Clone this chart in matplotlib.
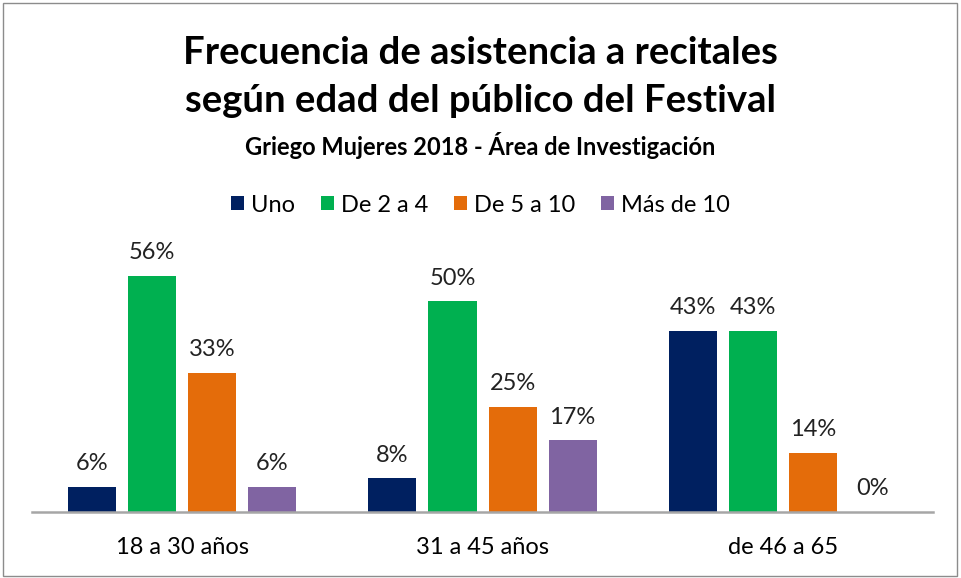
import numpy as np
import matplotlib.pyplot as plt
from matplotlib.patches import Rectangle

plt.rcParams['font.family'] = ['Lato', 'DejaVu Sans']

categories = ['18 a 30 años', '31 a 45 años', 'de 46 a 65']
series = ['Uno', 'De 2 a 4', 'De 5 a 10', 'Más de 10']
values = {
    'Uno': [6, 8, 43],
    'De 2 a 4': [56, 50, 43],
    'De 5 a 10': [33, 25, 14],
    'Más de 10': [6, 17, 0],
}
colors = ['#002060', '#00B050', '#E46C0A', '#8064A2']

fig = plt.figure(figsize=(9.61, 5.78), dpi=100)
ax = fig.add_axes([0.0333, 0.1142, 0.9376, 0.4706])

x = np.arange(len(categories))
width = 0.16
offsets = [-0.3, -0.1, 0.1, 0.3]

for name, col, off in zip(series, colors, offsets):
    vals = values[name]
    bars = ax.bar(x + off, vals, width, color=col, label=name)
    for b, v in zip(bars, vals):
        ax.annotate(f'{v}%', (b.get_x() + b.get_width() / 2, v),
                    xytext=(0, 9), textcoords='offset points',
                    ha='center', va='bottom', fontsize=17, color='#222222')

ax.set_xlim(-0.5, 2.5)
ax.set_ylim(0, 64.5)
ax.set_yticks([])
ax.set_xticks(x)
ax.set_xticklabels(categories, fontsize=17)
ax.tick_params(axis='x', length=0, pad=18)
for s in ['top', 'right', 'left']:
    ax.spines[s].set_visible(False)
ax.spines['bottom'].set_color('#A6A6A6')
ax.spines['bottom'].set_linewidth(1.8)

fig.text(0.5, 0.908, 'Frecuencia de asistencia a recitales', ha='center', va='center',
         fontsize=27.5, fontweight='bold')
fig.text(0.5, 0.825, 'según edad del público del Festival', ha='center', va='center',
         fontsize=27.5, fontweight='bold')
fig.text(0.5, 0.748, 'Griego Mujeres 2018 - Área de Investigación', ha='center', va='center',
         fontsize=17, fontweight='bold')

fig.legend(loc='center', bbox_to_anchor=(0.5, 0.645), ncol=4, frameon=False,
           fontsize=17, handlelength=0.55, handleheight=0.55, handletextpad=0.3,
           columnspacing=1.1)

fig.patches.append(Rectangle((0.003, 0.003), 0.993, 0.991, transform=fig.transFigure,
                             fill=False, edgecolor='#8C8C8C', linewidth=1))

fig.savefig('out.png', dpi=100)
